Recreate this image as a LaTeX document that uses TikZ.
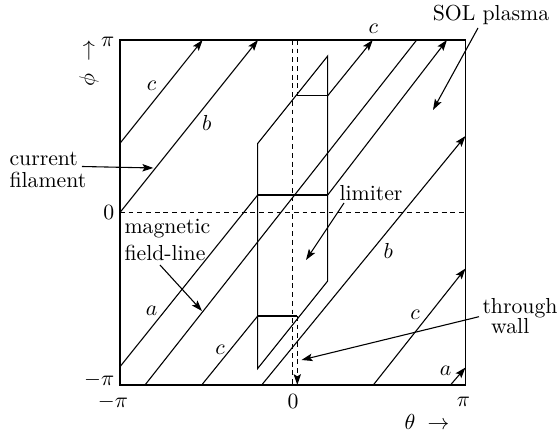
\documentclass[tikz,border=0pt]{standalone}
\usetikzlibrary{arrows.meta}
\begin{document}
\begin{tikzpicture}[x=0.46pt,y=-0.46pt,line width=0.5pt,
  tip/.style={-{Stealth[length=5pt,width=3.4pt,inset=1pt]}},
  dsh/.style={dash pattern=on 2.2pt off 1.8pt},
  lab/.style={inner sep=1pt},
  txt/.style={inner sep=0pt,align=left}]
\useasboundingbox (0,0) rectangle (557,436);
% frame
\coordinate (BL) at (120,385);
\coordinate (TR) at (465.5,40);
\draw[line width=0.6pt] (BL) rectangle (TR);
% axes (dashed)
\coordinate (h0) at (120,212.5); \coordinate (h1) at (465.5,212.5);
\coordinate (v0) at (292.75,40); \coordinate (v1) at (292.75,385);
\draw[dsh] (h0) -- (h1);
\draw[dsh] (v0) -- (v1);
% limiter
\coordinate (L1) at (257.7,143.5);
\coordinate (L2) at (327.7,56);
\coordinate (L3) at (327.7,281);
\coordinate (L4) at (257.7,368.5);
\draw (L1) -- (L2) -- (L3) -- (L4) -- cycle;
\coordinate (T1) at (297.3,95.7); \coordinate (T2) at (327.7,95.7);
\coordinate (M1) at (257.7,195);  \coordinate (M2) at (327.7,195);
\coordinate (B1) at (257.7,316);  \coordinate (B2) at (297.3,316);
\draw (T1) -- (T2);
\draw (M1) -- (M2);
\draw (B1) -- (B2);
% through-wall dashed
\coordinate (wt) at (297.3,40);
\coordinate (wb) at (297.3,385);
\draw[dsh] (wt) -- (T1);
\draw[dsh,tip] (B2) -- (wb);
% field lines
\coordinate (c1s) at (120,143.3); \coordinate (c1e) at (202.6,40);
\draw[tip] (c1s) -- (c1e);
\coordinate (b1s) at (120,212.5); \coordinate (b1e) at (258,40);
\draw[tip] (b1s) -- (b1e);
\coordinate (c2e) at (372.8,40);
\draw[tip] (T2) -- (c2e);
\coordinate (a2e) at (447,40);
\draw[tip] (M2) -- (a2e);
\coordinate (ls) at (145,385); \coordinate (le) at (416.7,40);
\draw (ls) -- (le);
\coordinate (a1s) at (120,366.7);
\draw (a1s) -- (M1);
\coordinate (c3s) at (201.7,385);
\draw (c3s) -- (B1);
\coordinate (b2s) at (261.7,385); \coordinate (b2e) at (465.5,136);
\draw[tip] (b2s) -- (b2e);
\coordinate (c4s) at (373.3,385); \coordinate (c4e) at (465.5,268.5);
\draw[tip] (c4s) -- (c4e);
\coordinate (a3s) at (450.5,385); \coordinate (a3e) at (465.5,367.5);
\draw[tip] (a3s) -- (a3e);
% segment labels
\node[lab] (lc1) at (151.7,86) {$c$};
\node[lab] (lb1) at (206.7,123) {$b$};
\node[lab] (lc2) at (373.3,29) {$c$};
\node[lab] (la1) at (151.7,311) {$a$};
\node[lab] (lc3) at (220,350) {$c$};
\node[lab] (lb2) at (388.3,251) {$b$};
\node[lab] (lc4) at (415,315) {$c$};
\node[lab] (la3) at (445.7,371) {$a$};
% tick labels
\node[lab,anchor=east] (ypi) at (117,42) {$\pi$};
\node[lab,anchor=east] (y0) at (117,212.5) {$0$};
\node[lab,anchor=east] (ympi) at (117,380) {$-\pi$};
\node[lab] (xmpi) at (113,402) {$-\pi$};
\node[lab] (x0) at (293,402) {$0$};
\node[lab] (xpi) at (463.5,402) {$\pi$};
\node[lab] (theta) at (427,422) {$\theta\;\rightarrow$};
\node[lab,rotate=90] (phi) at (89,63) {$\phi\;\rightarrow$};
% annotations
\node[txt,anchor=west] (cf) at (9,170) {current\\[-2pt]filament};
\coordinate (cft) at (82,166.5); \coordinate (cfh) at (153.3,168);
\draw[tip] (cft) -- (cfh);
\node[txt,anchor=west] (mf) at (124,240) {magnetic\\field-line};
\coordinate (mft) at (160,265); \coordinate (mfh) at (202,311);
\draw[tip] (mft) -- (mfh);
\node[lab] (lim) at (371,193) {limiter};
\coordinate (limt) at (344,203); \coordinate (limh) at (306,260);
\draw[tip] (limt) -- (limh);
\node[lab] (sol) at (491,15) {SOL plasma};
\coordinate (solt) at (478,28); \coordinate (solh) at (433,110);
\draw[tip] (solt) -- (solh);
\node[txt,anchor=west] (tw) at (482,316) {through\\[-2.5pt]\hspace{4pt}wall};
\coordinate (twt) at (479,316.7); \coordinate (twh) at (301.5,360);
\draw[tip] (twt) -- (twh);
\end{tikzpicture}
\end{document}
